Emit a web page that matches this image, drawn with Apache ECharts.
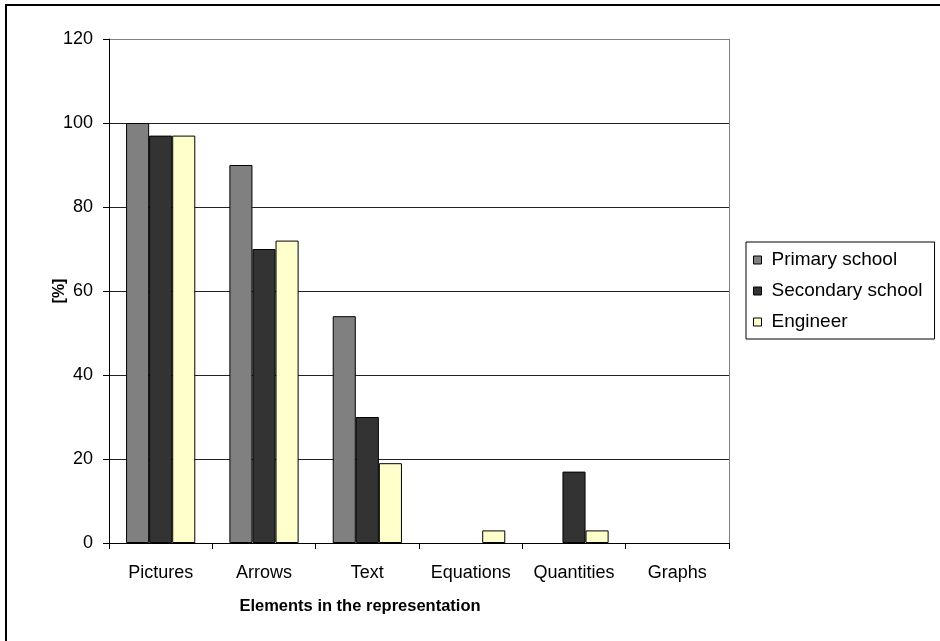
<!DOCTYPE html>
<html>
<head>
<meta charset="utf-8">
<script src="https://cdn.jsdelivr.net/npm/echarts@6/dist/echarts.min.js"></script>
<style>html,body{margin:0;padding:0;background:#fff}#c{width:940px;height:641px}</style>
</head>
<body>
<div id="c"></div>
<script>
var categories = ['Pictures', 'Arrows', 'Text', 'Equations', 'Quantities', 'Graphs'];
var primarySchool = [100, 90, 54, 0, 0, 0];
var secondarySchool = [97, 70, 30, 0, 17, 0];
var engineer = [97, 72, 19, 3, 3, 0];
var seriesNames = ['Primary school', 'Secondary school', 'Engineer'];
var yTicks = {min: 0, max: 120, interval: 20};

var chart = echarts.init(document.getElementById('c'));
var font = 'Liberation Sans, Arial, sans-serif';
function barSeries(name, data, color) {
  return {
    name: name, type: 'bar',
    data: data.map(function (v) { return v === 0 ? '-' : v; }),
    barGap: '0%', barCategoryGap: '33%',
    itemStyle: {color: color, borderColor: '#000', borderWidth: 1},
    emphasis: {disabled: true}
  };
}
chart.setOption({
  animation: false,
  backgroundColor: '#fff',
  grid: {left: 109, right: 211, top: 39, bottom: 98, containLabel: false},
  xAxis: {
    type: 'category', data: categories,
    axisLine: {lineStyle: {color: '#000', width: 1}},
    axisTick: {show: true, length: 6, lineStyle: {color: '#000'}},
    axisLabel: {color: '#000', fontFamily: font, fontSize: 18, margin: 21, interval: 0, hideOverlap: false}
  },
  yAxis: {
    type: 'value', min: yTicks.min, max: yTicks.max, interval: yTicks.interval,
    axisLine: {show: true, lineStyle: {color: '#000', width: 1}},
    axisTick: {show: true, length: 6, inside: false, lineStyle: {color: '#000'}},
    axisLabel: {color: '#000', fontFamily: font, fontSize: 18, margin: 16},
    splitLine: {show: true, lineStyle: {color: ['#222', '#222', '#222', '#222', '#222', '#222', '#808080'], width: 1}}
  },
  legend: {
    orient: 'vertical', left: 746, top: 242,
    data: seriesNames,
    icon: 'rect', itemWidth: 8, itemHeight: 8, itemGap: 11,
    borderColor: '#000', borderWidth: 1, padding: [8, 12, 7, 7],
    itemStyle: {borderColor: '#000', borderWidth: 1},
    textStyle: {color: '#000', fontFamily: font, fontSize: 19, lineHeight: 20, padding: [0, 0, 0, 5]},
    selectedMode: false
  },
  graphic: [
    {type: 'rect', shape: {x: 6, y: 5, width: 1000, height: 1000}, style: {fill: 'none', stroke: '#000', lineWidth: 2}, silent: true},
    {type: 'line', shape: {x1: 729.5, y1: 39, x2: 729.5, y2: 543}, style: {stroke: '#808080', lineWidth: 1}, z: 10},
    {type: 'text', x: 360, y: 606, style: {text: 'Elements in the representation', font: 'bold 16.5px ' + font, fill: '#000', align: 'center', verticalAlign: 'middle'}},
    {type: 'text', x: 60, y: 291, rotation: Math.PI / 2, style: {text: '[%]', font: 'bold 16px ' + font, fill: '#000', align: 'center', verticalAlign: 'middle'}}
  ],
  series: [
    barSeries(seriesNames[0], primarySchool, '#808080'),
    barSeries(seriesNames[1], secondarySchool, '#333333'),
    barSeries(seriesNames[2], engineer, '#FFFFCC')
  ]
});
</script>
</body>
</html>
